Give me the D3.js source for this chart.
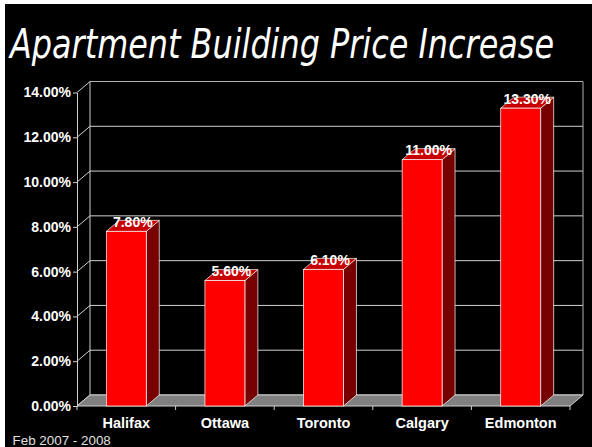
<!DOCTYPE html>
<html>
<head>
<meta charset="utf-8">
<script src="https://cdn.jsdelivr.net/npm/d3@7"></script>
<style>
  body { margin: 0; background: #fff; }
  svg { display: block; }
</style>
</head>
<body>
<div id="chart"></div>
<script>
var categories = ['Halifax', 'Ottawa', 'Toronto', 'Calgary', 'Edmonton'];
var values = [0.078, 0.056, 0.061, 0.110, 0.133];
var yTicks = [0, 0.02, 0.04, 0.06, 0.08, 0.10, 0.12, 0.14];
var titleText = 'Apartment Building Price Increase';
var noteText = 'Feb 2007 - 2008';

var svgWidth = 592,
  svgHeight = 447,
  plotLeft = 77,
  plotRight = 570,
  plotBottom = 406,
  plotTop = 92.5,
  dx = 13,
  dy = 11;

var svg = d3.select('#chart')
  .append('svg')
  .attr('width', svgWidth)
  .attr('height', svgHeight);

svg.append('rect')
  .attr('x', 5).attr('y', 4)
  .attr('width', svgWidth - 5).attr('height', svgHeight - 4)
  .attr('fill', '#000');

var x = d3.scaleBand().domain(categories).range([plotLeft, plotRight]).padding(0);
var y = d3.scaleLinear().domain([0, 0.14]).range([plotBottom, plotTop]);

var barW = x.bandwidth() * 0.405;
var lineCol = '#d0d0d0';

// back wall + left wall
var walls = svg.append('g');
yTicks.forEach(function (t) {
  walls.append('line')
    .attr('x1', plotLeft + dx).attr('x2', plotRight + dx)
    .attr('y1', y(t) - dy).attr('y2', y(t) - dy)
    .attr('stroke', t === 0.14 ? '#b0b0b0' : lineCol)
    .attr('stroke-width', 1);
  walls.append('line')
    .attr('x1', plotLeft).attr('x2', plotLeft + dx)
    .attr('y1', y(t)).attr('y2', y(t) - dy)
    .attr('stroke', lineCol);
});
walls.append('line')
  .attr('x1', plotLeft + dx).attr('x2', plotLeft + dx)
  .attr('y1', y(0) - dy).attr('y2', y(0.14) - dy)
  .attr('stroke', lineCol);
walls.append('line')
  .attr('x1', plotRight + dx).attr('x2', plotRight + dx)
  .attr('y1', y(0) - dy).attr('y2', y(0.14) - dy)
  .attr('stroke', '#b0b0b0');

// floor
svg.append('polygon')
  .attr('points', [[plotLeft, plotBottom], [plotRight, plotBottom], [plotRight + dx, plotBottom - dy], [plotLeft + dx, plotBottom - dy]].join(' '))
  .attr('fill', '#808080')
  .attr('stroke', lineCol)
  .attr('stroke-width', 1);

// bars
var bars = svg.append('g').selectAll('g')
  .data(values)
  .enter()
  .append('g');

function bx(d, i) { return x(categories[i]) + (x.bandwidth() - barW) / 2; }

bars.append('polygon')
  .attr('points', function (d, i) {
    var x0 = bx(d, i) + barW, y0 = y(d);
    return [[x0, y0], [x0 + dx, y0 - dy], [x0 + dx, plotBottom - dy], [x0, plotBottom]].join(' ');
  })
  .attr('fill', '#770000')
  .attr('stroke', '#fff').attr('stroke-width', 0.7);

bars.append('polygon')
  .attr('points', function (d, i) {
    var x0 = bx(d, i), y0 = y(d);
    return [[x0, y0], [x0 + dx, y0 - dy], [x0 + barW + dx, y0 - dy], [x0 + barW, y0]].join(' ');
  })
  .attr('fill', '#c80000')
  .attr('stroke', '#fff').attr('stroke-width', 0.7);

bars.append('rect')
  .attr('x', bx)
  .attr('y', function (d) { return y(d); })
  .attr('width', barW)
  .attr('height', function (d) { return plotBottom - y(d); })
  .attr('fill', '#ff0000')
  .attr('stroke', '#fff').attr('stroke-width', 0.7);

bars.append('text')
  .attr('x', function (d, i) { return x(categories[i]) + x.bandwidth() / 2 + dx / 2; })
  .attr('y', function (d) { return y(d) - 4.5; })
  .attr('text-anchor', 'middle')
  .attr('fill', '#fff')
  .attr('font-family', 'Liberation Sans, Arial, sans-serif')
  .attr('font-weight', 'bold')
  .attr('font-size', '14px')
  .text(function (d) { return d3.format('.2%')(d); });

// y axis
var yAxis = svg.append('g')
  .attr('transform', 'translate(' + plotLeft + ',0)')
  .call(d3.axisLeft(y).tickValues(yTicks).tickFormat(d3.format('.2%')).tickSize(4).tickSizeOuter(0).tickPadding(2));
yAxis.select('.domain').attr('stroke', lineCol);
yAxis.selectAll('line').attr('stroke', lineCol);
yAxis.selectAll('text')
  .attr('fill', '#fff')
  .attr('font-family', 'Liberation Sans, Arial, sans-serif')
  .attr('font-weight', 'bold')
  .attr('font-size', '14px');

// x axis
var xAxis = svg.append('g')
  .attr('transform', 'translate(0,' + plotBottom + ')')
  .call(d3.axisBottom(x).tickSize(0).tickPadding(12));
xAxis.select('.domain').remove();
xAxis.selectAll('text')
  .attr('fill', '#fff')
  .attr('font-family', 'Liberation Sans, Arial, sans-serif')
  .attr('font-weight', 'bold')
  .attr('font-size', '14.5px');
d3.range(categories.length + 1).forEach(function (k) {
  svg.append('line')
    .attr('x1', plotLeft + k * x.step()).attr('x2', plotLeft + k * x.step())
    .attr('y1', plotBottom).attr('y2', plotBottom + 4)
    .attr('stroke', lineCol);
});

// title
svg.append('text')
  .attr('x', 10).attr('y', 58)
  .attr('fill', '#fff')
  .attr('font-family', 'DejaVu Sans, sans-serif')
  .attr('font-style', 'italic')
  .attr('font-size', '40px')
  .attr('textLength', 544)
  .attr('lengthAdjust', 'spacingAndGlyphs')
  .text(titleText);

svg.append('text')
  .attr('x', 12.5).attr('y', 445)
  .attr('fill', '#e0e0e0')
  .attr('font-family', 'Liberation Sans, Arial, sans-serif')
  .attr('font-size', '13.4px')
  .text(noteText);
</script>
</body>
</html>
